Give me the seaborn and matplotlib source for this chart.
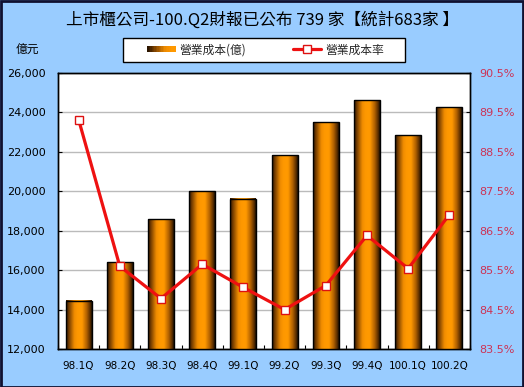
import numpy as np
import pandas as pd
import matplotlib
matplotlib.use("Agg")
import matplotlib.pyplot as plt
import seaborn as sns
from matplotlib.patches import Rectangle
from matplotlib.lines import Line2D
from matplotlib.legend_handler import HandlerBase
from matplotlib.colors import LinearSegmentedColormap
from matplotlib.ticker import FuncFormatter, FixedLocator

categories = ["98.1Q", "98.2Q", "98.3Q", "98.4Q", "99.1Q", "99.2Q", "99.3Q", "99.4Q", "100.1Q", "100.2Q"]
cost = [14450, 16400, 18580, 20000, 19610, 21820, 23490, 24610, 22840, 24250]
cost_rate = [89.32, 85.60, 84.78, 85.65, 85.06, 84.50, 85.11, 86.38, 85.54, 86.91]
left_ticks = [12000, 14000, 16000, 18000, 20000, 22000, 24000, 26000]
right_ticks = [83.5, 84.5, 85.5, 86.5, 87.5, 88.5, 89.5, 90.5]

title = "上市櫃公司-100.Q2財報已公布 739 家【統計683家 】"
bar_label = "營業成本(億)"
line_label = "營業成本率"
unit_label = "億元"

sns.set_theme(style="white")
plt.rcParams['font.family'] = ['DejaVu Sans', 'Noto Sans CJK TC']
cjk = ['Noto Sans CJK TC', 'DejaVu Sans']

BG = '#99CCFF'
YMIN, YMAX = 12000, 26000
W, H = 524, 387
fig = plt.figure(figsize=(5.24, 3.87), dpi=100, facecolor=BG)
ax = fig.add_axes([58/W, 1-349/H, 412/W, 276/H])
ax.set_facecolor('white')

df = pd.DataFrame({"q": categories, "cost": cost, "rate": cost_rate})

sns.barplot(data=df, x="q", y="cost", ax=ax, color='#FF9900', width=0.63,
            edgecolor='black', linewidth=1.0, zorder=3)

# gradient fill of bars
cmap = LinearSegmentedColormap.from_list(
    "bargrad",
    [(0.0, '#2a1500'), (0.12, '#7a4000'), (0.32, '#F08C00'), (0.45, '#FF9900'),
     (0.62, '#FF9900'), (0.8, '#B06000'), (0.93, '#5a2e00'), (1.0, '#1e1000')])
grad = np.linspace(0, 1, 256).reshape(1, -1)
for p in list(ax.patches):
    x0, y0 = p.get_x(), p.get_y()
    w, h = p.get_width(), p.get_height()
    p.set_facecolor('none')
    ax.imshow(grad, extent=[x0, x0 + w, YMIN, y0 + h], aspect='auto',
              cmap=cmap, zorder=2.9, interpolation='bilinear')
ax.set_ylim(YMIN, YMAX)
ax.set_xlim(-0.5, len(categories) - 0.5)
ax.set_aspect('auto')

ax.yaxis.set_major_locator(FixedLocator(left_ticks))
ax.yaxis.set_major_formatter(FuncFormatter(lambda v, p: f"{int(v):,}"))
ax.grid(axis='y', color='#BBBBBB', linewidth=1.0, zorder=0)
ax.set_axisbelow(True)
ax.set_xlabel("")
ax.set_ylabel("")
ax.set_xticks(np.arange(len(categories)))
ax.set_xticklabels(categories)
ax.set_xticks(np.arange(len(categories) + 1) - 0.5, minor=True)
ax.tick_params(axis='x', which='major', length=0, pad=9, labelsize=7.5, colors='black')
ax.tick_params(axis='x', which='minor', length=3, direction='in', color='black', width=0.8, bottom=True)
ax.tick_params(axis='y', which='major', length=3, direction='in', pad=9, labelsize=8,
               colors='black', left=True, width=0.8)
for s in ax.spines.values():
    s.set_color('black')
    s.set_linewidth(1.0)

ax2 = ax.twinx()
sns.pointplot(data=df, x="q", y="rate", ax=ax2, color='#EE1111', markers='s',
              linestyles='-', linewidth=2.3, markersize=5.5,
              markerfacecolor='white', markeredgecolor='#DD1111', markeredgewidth=1.0,
              errorbar=None)
ax2.set_ylim(83.5, 90.5)
ax2.set_xlim(-0.5, len(categories) - 0.5)
ax2.yaxis.set_major_locator(FixedLocator(right_ticks))
ax2.yaxis.set_major_formatter(FuncFormatter(lambda v, p: f"{v:.1f}%"))
ax2.tick_params(axis='y', which='major', length=3, direction='in', pad=7, labelsize=8,
                labelcolor='#CC3355', color='black', right=True, width=0.8)
ax2.set_ylabel("")
ax2.set_xlabel("")
ax2.grid(False)
for s in ax2.spines.values():
    s.set_color('black')
    s.set_linewidth(1.0)

fig.text(262/W, 1 - 20/H, title, ha='center', va='center', fontsize=12,
         family=cjk, color='black')
fig.text(27/W, 1 - 50/H, unit_label, ha='center', va='center', fontsize=8.5,
         family=cjk, color='black')


class HandlerGradient(HandlerBase):
    def create_artists(self, legend, orig_handle, xdescent, ydescent, width, height, fontsize, trans):
        arts = []
        n = 20
        hh = height * 0.75
        yb = -ydescent + (height - hh) / 2
        for i in range(n):
            c = cmap(0.0 + 0.5 * i / (n - 1))
            r = Rectangle((-xdescent + width * i / n, yb), width / n + 0.3, hh,
                          facecolor=c, edgecolor='none', transform=trans)
            arts.append(r)
        return arts


# legend box
fig.patches.append(Rectangle((123/W, 1 - 62/H), 282/W, 24/H, transform=fig.transFigure,
                             facecolor='white', edgecolor='black', linewidth=1.0, zorder=1))

bar_handle = Rectangle((0, 0), 1, 1, facecolor='#FF9900')
line_handle = Line2D([0], [0], color='#EE1111', linewidth=2.3, marker='s', markersize=5.5,
                     markerfacecolor='white', markeredgecolor='#DD1111')
leg = fig.legend([bar_handle, line_handle], [bar_label, line_label],
                 handler_map={Rectangle: HandlerGradient()},
                 loc='center', bbox_to_anchor=(265.5/W, 1 - 50/H), ncol=2,
                 frameon=False, prop={'family': cjk, 'size': 8.5},
                 borderpad=0, handlelength=2.4, columnspacing=4.0, handletextpad=0.3,
                 borderaxespad=0)

fig.patches.append(Rectangle((0.001, 0.001), 0.997, 0.997, transform=fig.transFigure,
                             fill=False, edgecolor='#101030', linewidth=2.0))

fig.savefig("out.png", dpi=100, facecolor=BG)
